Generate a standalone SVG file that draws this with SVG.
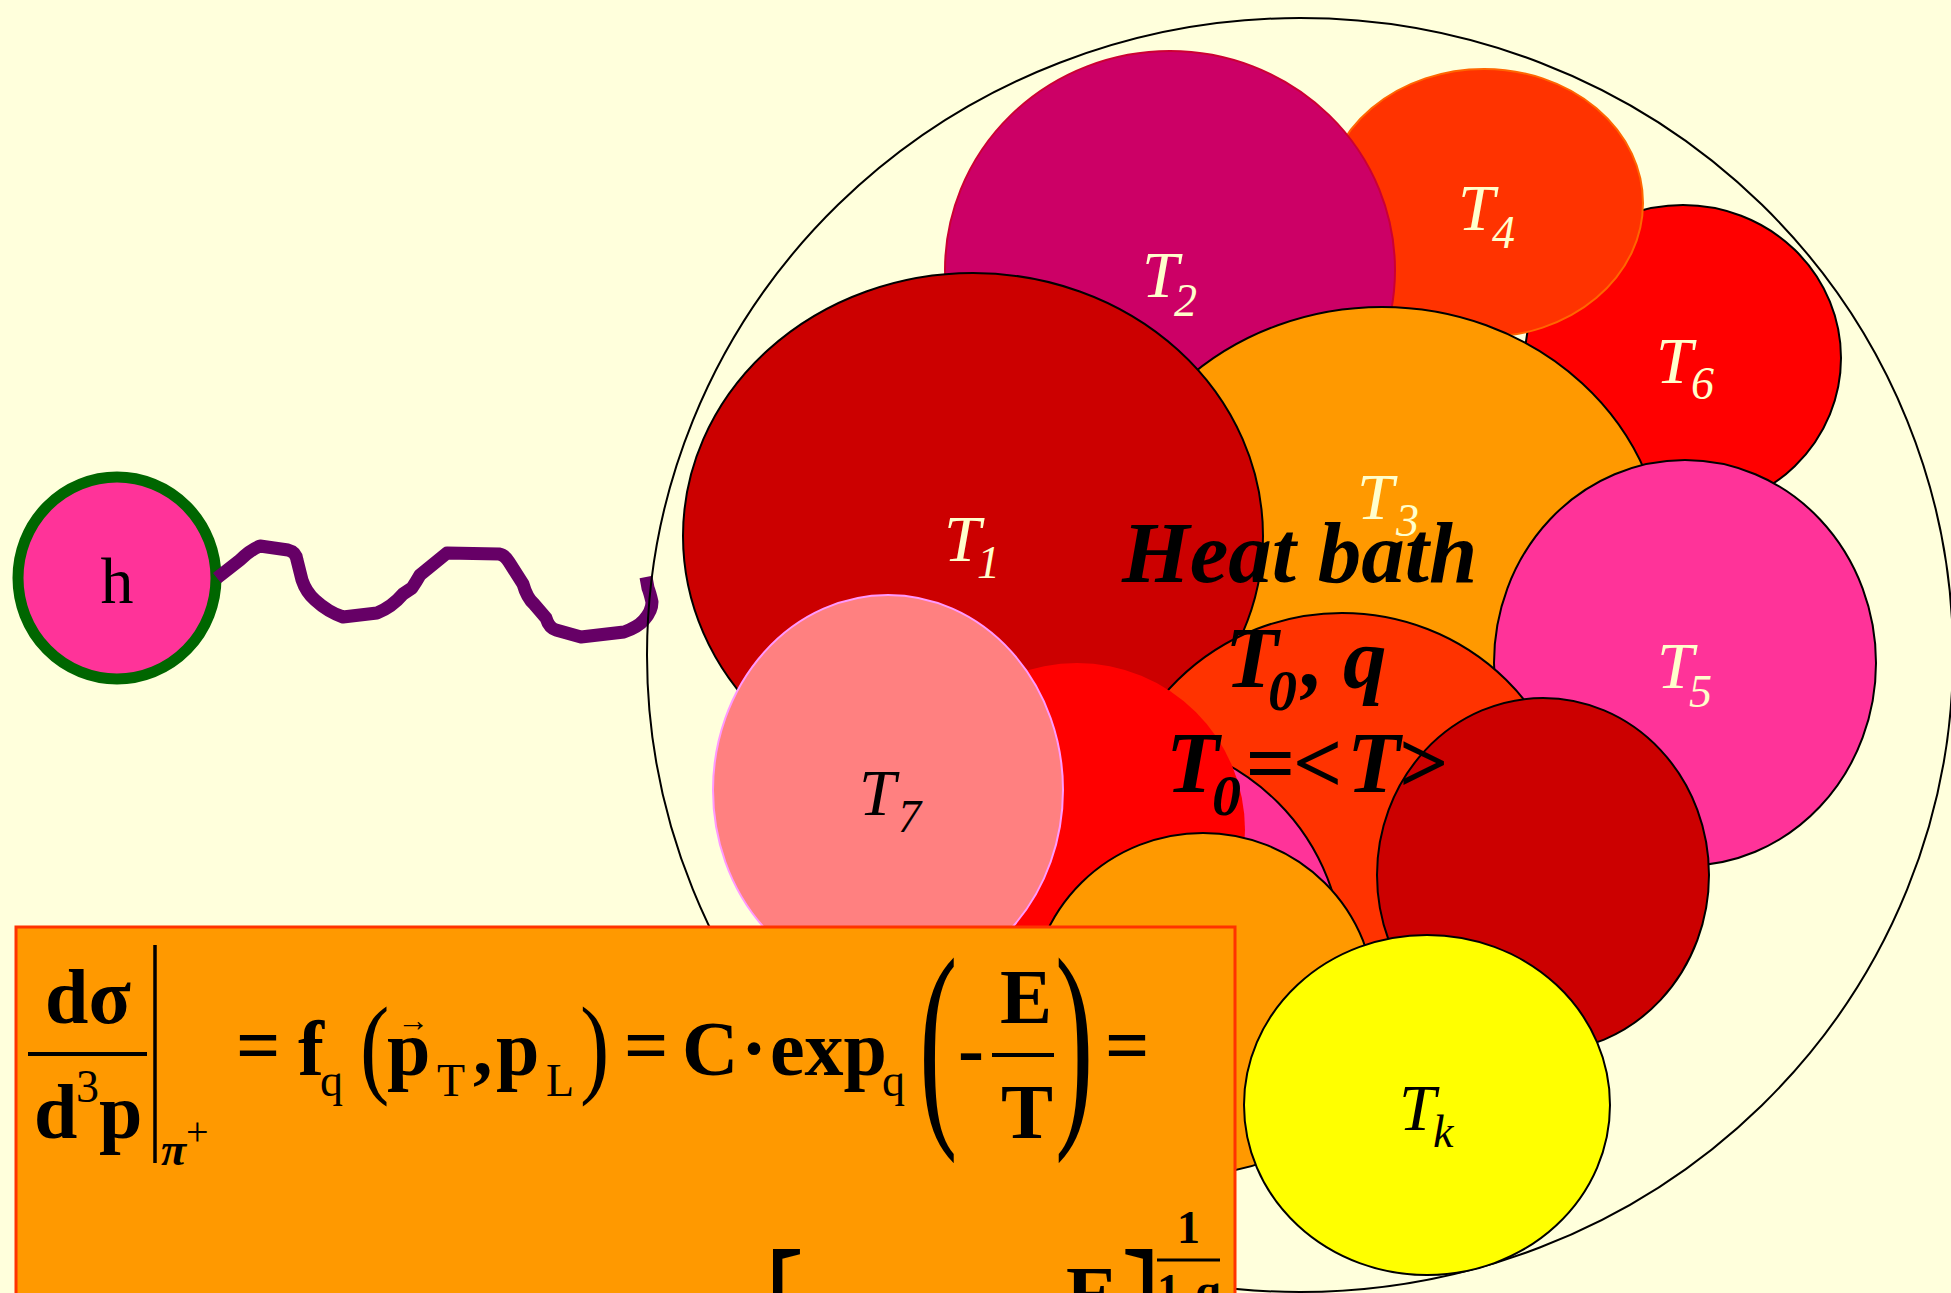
<svg xmlns="http://www.w3.org/2000/svg" width="1951" height="1293" viewBox="0 0 1951 1293">
<style>
.bk{stroke:#000;stroke-width:2}
.tl{font-family:"Liberation Serif",serif;font-style:italic;fill:#FFFFCC}
.tt{font-size:66px}
.ts{font-size:46px}
.dk{fill:#000}
.hb{font-family:"Liberation Serif",serif;font-style:italic;font-weight:bold;fill:#000}
.hbl{font-size:87px}
.hbs{font-size:58px}
.eq{font-family:"Liberation Serif",serif;font-weight:bold;font-size:78px;fill:#000}
.sb{font-family:"Liberation Serif",serif;fill:#000}
.s46{font-size:46px}
.pr{font-family:"Liberation Serif",serif;fill:#000;font-size:110px}
</style>
<rect x="0" y="0" width="1951" height="1293" fill="#FFFFDC"/>

<g id="h-node">
<ellipse cx="117" cy="578" rx="99" ry="101" fill="#FF3399" stroke="#006600" stroke-width="11"/>
<text x="117" y="603" text-anchor="middle" font-family="Liberation Serif, serif" font-size="66" fill="#000">h</text>
</g>

<g id="connectors">
<path d="M217,578 L240,560 Q250,550 260,546 L288,550 Q296,552 297,560 L302,580 Q306,592 315,600 Q328,612 343,617 L377,613 Q392,607 403,594 L412,588 Q416,582 420,575 L447,553 L499,554 Q505,555 509,562 L523,584 Q527,598 534,604 L546,618 Q549,628 556,630 L581,637 L624,632 Q638,627 644,620 Q652,611 652,602 Q650,593 648,588 L646,577" fill="none" stroke="#660066" stroke-width="13" stroke-linejoin="round"/>
</g>

<g id="heat-bath-outline">
<ellipse cx="1300" cy="655" rx="653" ry="637" fill="none" stroke="#000" stroke-width="2"/>
</g>

<g id="T6"><ellipse cx="1683" cy="358" rx="158" ry="153" fill="#FF0000" class="bk"/></g>
<g id="T4"><ellipse cx="1484" cy="203" rx="159" ry="134" fill="#FF3300" stroke="#FF6600" stroke-width="2"/></g>
<g id="T2"><ellipse cx="1170" cy="270" rx="225" ry="219" fill="#CC0066" stroke="#CC0033" stroke-width="2"/></g>
<g id="T3"><ellipse cx="1382" cy="567" rx="283" ry="260" fill="#FF9900" class="bk"/></g>
<g id="T1"><ellipse cx="973" cy="536" rx="290" ry="263" fill="#CC0000" class="bk"/></g>
<g id="T5"><ellipse cx="1685" cy="663" rx="191" ry="203" fill="#FF3399" class="bk"/></g>
<g id="T0-bath"><ellipse cx="1342" cy="841" rx="232" ry="228" fill="#FF3300" class="bk"/></g>
<g id="pink-hidden"><ellipse cx="1120" cy="960" rx="223" ry="223" fill="#FF3399" class="bk"/></g>
<g id="red-hidden"><ellipse cx="1077" cy="830" rx="168" ry="167" fill="#FF0000"/></g>
<g id="T7"><ellipse cx="888" cy="790" rx="175" ry="195" fill="#FF8080" stroke="#FF99FF" stroke-width="2"/></g>
<g id="orange-low"><ellipse cx="1203" cy="1003" rx="172" ry="170" fill="#FF9900" class="bk"/></g>
<g id="darkred-low"><ellipse cx="1543" cy="875" rx="166" ry="177" fill="#CC0000" class="bk"/></g>
<g id="Tk"><ellipse cx="1427" cy="1105" rx="183" ry="170" fill="#FFFF00" class="bk"/></g>

<g id="labels">
<text class="tl tt" x="1142" y="297">T</text><text class="tl ts" x="1174" y="316">2</text>
<text class="tl tt" x="1458" y="230">T</text><text class="tl ts" x="1492" y="248">4</text>
<text class="tl tt" x="1656" y="383">T</text><text class="tl ts" x="1691" y="399">6</text>
<text class="tl tt" x="1357" y="519">T</text><text class="tl ts" x="1396" y="536">3</text>
<text class="tl tt" x="944" y="561">T</text><text class="tl ts" x="977" y="578">1</text>
<text class="tl tt" x="1657" y="688">T</text><text class="tl ts" x="1689" y="707">5</text>
<text class="tl tt dk" x="859" y="815">T</text><text class="tl ts dk" x="898" y="832">7</text>
<text class="tl tt dk" x="1399" y="1130">T</text><text class="tl ts dk" x="1433" y="1147">k</text>
</g>

<g id="heat-bath-text">
<text class="hb hbl" x="1122" y="582">Heat bath</text>
<text class="hb hbl" x="1225" y="687">T</text>
<text class="hb hbs" x="1268" y="710">0</text>
<text class="hb hbl" x="1302" y="687">,</text>
<text class="hb hbl" x="1343" y="687">q</text>
<text class="hb hbl" x="1166" y="792">T</text>
<text class="hb hbs" x="1212" y="815">0</text>
<text class="hb hbl" x="1245" y="792">=</text>
<text class="hb hbl" x="1293" y="792">&lt;</text>
<text class="hb hbl" x="1347" y="792">T</text>
<text class="hb hbl" x="1397" y="792">&gt;</text>
</g>

<g id="formula">
<rect x="16" y="927" width="1219" height="380" fill="#FF9900" stroke="#FF3300" stroke-width="3"/>
<text class="eq" x="88" y="1023" text-anchor="middle">dσ</text>
<line x1="28" y1="1054" x2="147" y2="1054" stroke="#000" stroke-width="4"/>
<text class="eq" x="34" y="1138">d</text>
<text class="sb" x="76" y="1102" style="font-size:46px">3</text>
<text class="eq" x="99" y="1138">p</text>
<line x1="155" y1="945" x2="155" y2="1163" stroke="#000" stroke-width="3.5"/>
<text class="sb" x="161" y="1165" style="font-size:46px;font-weight:bold;font-style:italic">π</text>
<text class="sb" x="186" y="1145" style="font-size:40px">+</text>

<text class="eq" x="236" y="1071">=</text>
<text class="eq" x="298" y="1075">f</text>
<text class="sb s46" x="320" y="1096">q</text>
<text class="pr" transform="translate(360,1083) scale(0.8,1)">(</text>
<text class="eq" x="387" y="1075">p</text>
<text class="sb" x="397" y="1031" style="font-size:32px" textLength="31">→</text>
<text class="sb s46" x="437" y="1096">T</text>
<text class="eq" x="473" y="1075">,</text>
<text class="eq" x="496" y="1075">p</text>
<text class="sb s46" x="546" y="1096">L</text>
<text class="pr" transform="translate(580,1083) scale(0.8,1)">)</text>
<text class="eq" x="624" y="1071">=</text>
<text class="eq" x="682" y="1075">C</text>
<text class="eq" x="741" y="1075">·</text>
<text class="eq" x="770" y="1075">exp</text>
<text class="sb s46" x="882" y="1096">q</text>
<text class="pr" transform="translate(919,1115) scale(1.05,2.07)">(</text>
<text class="eq" x="958" y="1075">-</text>
<text class="eq" x="1000" y="1023">E</text>
<line x1="992" y1="1055" x2="1054" y2="1055" stroke="#000" stroke-width="4"/>
<text class="eq" x="1001" y="1138">T</text>
<text class="pr" transform="translate(1055,1115) scale(1.05,2.07)">)</text>
<text class="eq" x="1105" y="1071">=</text>

<text class="pr" transform="translate(764,1407) scale(1.1,2.07)">[</text>
<text class="eq" x="1066" y="1320">E</text>
<text class="pr" transform="translate(1121,1407) scale(1.1,2.07)">]</text>
<text class="sb s46" x="1177" y="1243" font-weight="bold">1</text>
<line x1="1157" y1="1260" x2="1220" y2="1260" stroke="#000" stroke-width="3"/>
<text class="sb s46" x="1157" y="1306" font-weight="bold">1-q</text>
</g>
</svg>
